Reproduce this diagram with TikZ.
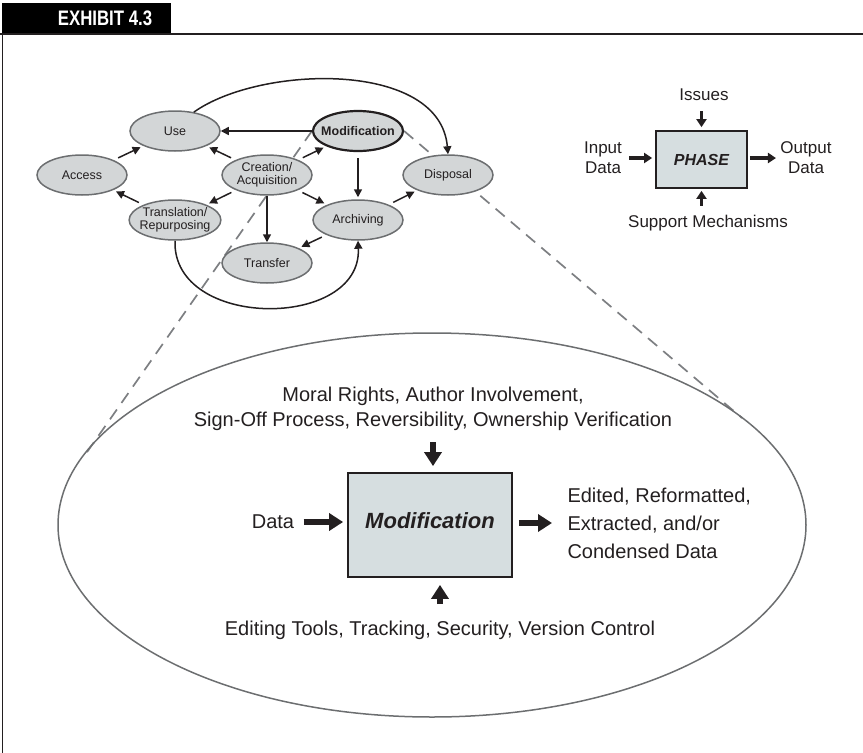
\documentclass[tikz,border=0pt]{standalone}
\usepackage{fontspec}
\setmainfont{Liberation Sans}
\usepackage{graphicx}
\usepackage{color}
\usetikzlibrary{arrows.meta,shapes.geometric,backgrounds}
\definecolor{ellfill}{RGB}{211,214,215}
\definecolor{boxfill}{RGB}{214,222,224}
\definecolor{ellline}{RGB}{108,110,112}
\definecolor{ink}{RGB}{35,31,32}
\definecolor{dashgray}{RGB}{125,127,130}

\begin{document}
\begin{tikzpicture}[x=1pt,y=-1pt,
  stage/.style={ellipse,draw=ellline,line width=1.5pt,fill=ellfill,text=ink,
    minimum width=90pt,minimum height=40pt,inner ysep=0pt,inner xsep=-3pt,
    align=center,font=\fontsize{12.5}{13}\selectfont},
  arr/.style={ink,line width=1.5pt,-{Triangle[length=8pt,width=8pt]}},
  gap/.style={shorten <=5pt,shorten >=3pt},
  midarr/.style={ink,line width=3.5pt,-{Triangle[length=8pt,width=10pt]}},
  bigarr/.style={ink,line width=6pt,-{Triangle[length=14pt,width=17pt]}},
  midtext/.style={text=ink,align=center,font=\fontsize{17}{20}\selectfont},
  bigtext/.style={text=ink,font=\fontsize{20}{25}\selectfont},
  phasebox/.style={draw=ink,line width=1.8pt,fill=boxfill,text=ink},
  zoomline/.style={dashgray,line width=1.7pt,dash pattern=on 12pt off 8pt},
  frameline/.style={ink,line width=1.2pt}]
\useasboundingbox (0,0) rectangle (863,753);

\fill[black] (2,3) rectangle (171,34);
\node[text=white,font=\bfseries\fontsize{21}{21}\selectfont] (exhibit) at (105,18.5) {\scalebox{0.8}[1]{EXHIBIT 4.3}};
\draw[frameline] (0,34) -- (863,34);
\draw[frameline] (2.5,34) -- (2.5,753);

% life cycle
\node[stage] (use) at (175,131) {Use};
\node[stage,draw=ink,line width=2.2pt,inner xsep=-6pt,font=\bfseries\fontsize{12.5}{13}\selectfont] (mod) at (358,131) {Modification};
\node[stage] (acc) at (82,175) {Access};
\node[stage] (cre) at (267,175) {Creation/\\Acquisition};
\node[stage] (disp) at (448,175) {Disposal};
\node[stage] (trans) at (175,220) {Translation/\\Repurposing};
\node[stage] (arch) at (358,220) {Archiving};
\node[stage] (xfer) at (267,263) {Transfer};

\draw[arr] (mod) -- (use);
\draw[arr,gap] (cre) -- (use);
\draw[arr,gap] (acc) -- (use);
\draw[arr,gap] (trans) -- (acc);
\draw[arr,gap] (cre) -- (trans);
\draw[arr,gap] (cre) -- (mod);
\draw[arr,gap] (cre) -- (arch);
\draw[arr] (cre) -- (xfer);
\draw[arr,shorten <=6pt,shorten >=2pt] (mod) -- (arch);
\draw[arr,gap] (arch) -- (xfer);
\draw[arr,gap] (arch) -- (disp);
\draw[arr] (use.45) .. controls (260,65) and (440,60) .. (disp.north);
\draw[arr] (trans.south) .. controls (172,330) and (362,330) .. (arch.south);

% legend
\node[phasebox,minimum width=91pt,minimum height=57pt,font=\bfseries\itshape\fontsize{16}{18}\selectfont] (phase) at (701.5,159.5) {PHASE};
\node[midtext] (issues) at (704,95) {Issues};
\node[midtext] (support) at (708,223) {Support Mechanisms};
\node[midtext] (input) at (603,158) {Input\\Data};
\node[midtext] (output) at (806,158) {Output\\Data};
\draw[midarr,shorten <=4pt,shorten >=3pt] (input.east) -- (input.east -| phase.west);
\draw[midarr,shorten <=2pt,shorten >=1pt] (phase.east |- output) -- (output.west);
\draw[midarr,shorten <=7pt,shorten >=3pt] (issues.south -| phase.north) -- (phase.north);
\draw[midarr,shorten <=6pt,shorten >=2pt] (support.north -| phase.south) -- (phase.south);

% zoomed phase
\node[ellipse,draw=ellline,line width=1.5pt,minimum width=748pt,minimum height=384pt,inner sep=0pt] (zoom) at (432,525) {};
\coordinate (zl) at (85,455);
\coordinate (zr) at (742,418);
\begin{scope}[on background layer]
\draw[zoomline] (mod.west) -- (zl);
\draw[zoomline] (mod.east) -- (zr);
\end{scope}

\node[phasebox,minimum width=164pt,minimum height=104pt,text depth=9pt,font=\bfseries\itshape\fontsize{22}{24}\selectfont] (modbox) at (430,525) {Modification};
\node[bigtext,align=center] (mods) at (433,409) {Moral Rights, Author Involvement,\\Sign-Off Process, Reversibility, Ownership Verification};
\node[bigtext] (din) at (273,522) {Data};
\node[bigtext,align=left,anchor=west,font=\fontsize{20}{28}\selectfont] (dout) at (564,523) {Edited, Reformatted,\\Extracted, and/or\\Condensed Data};
\node[bigtext] (tools) at (440,630) {Editing Tools, Tracking, Security, Version Control};
\draw[bigarr,shorten <=8pt,shorten >=6pt] (mods.south) -- (mods.south |- modbox.north);
\draw[bigarr,shorten <=13pt,shorten >=7pt] (tools.north) -- (tools.north |- modbox.south);
\draw[bigarr,shorten <=6pt,shorten >=4pt] (din.east) -- (din.east -| modbox.west);
\draw[bigarr,shorten <=6pt,shorten >=12pt] (modbox.east |- dout) -- (dout.west);
\end{tikzpicture}
\end{document}
